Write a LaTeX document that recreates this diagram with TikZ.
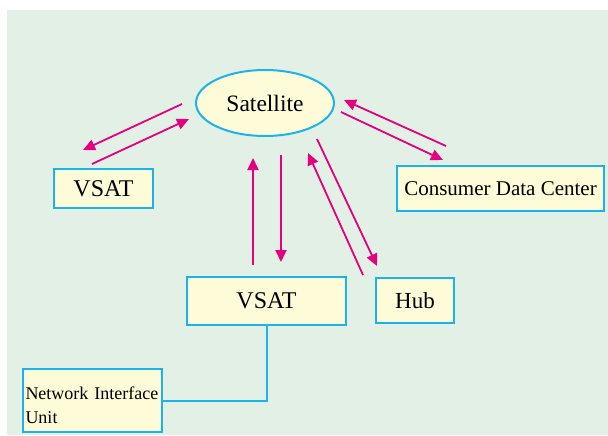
\documentclass[tikz,border=0pt]{standalone}
\usepackage{fontspec}
\setmainfont{Liberation Serif}
\usetikzlibrary{arrows.meta,shapes.geometric}
\definecolor{bggreen}{HTML}{E2F0E5}
\definecolor{boxfill}{HTML}{FEFBD8}
\definecolor{boxline}{HTML}{1BB4EA}
\definecolor{arrowmag}{HTML}{E4007F}
\tikzset{
  box/.style={draw=boxline, fill=boxfill, line width=2pt, inner sep=0pt, font=\fontsize{24}{28}\selectfont},
  sig/.style={draw=arrowmag, line width=1.8pt, -{Triangle[length=12pt,width=11pt]}},
  link/.style={draw=boxline, line width=2pt}
}
\begin{document}
\begin{tikzpicture}[x=1pt,y=-1pt]
\useasboundingbox (0,0) rectangle (608,436);
\fill[bggreen] (7,10) rectangle (608,435);
% nodes
\node[box, ellipse, minimum width=138pt, minimum height=66pt, font=\fontsize{23.5}{28}\selectfont] (sat) at (265,103) {Satellite};
\node[box, minimum width=99pt, minimum height=39pt] (vsatl) at (103.5,188.5) {VSAT};
\node[box, minimum width=207pt, minimum height=45pt, font=\fontsize{21}{25}\selectfont] (cdc) at (500.5,188.5) {Consumer Data Center};
\node[box, minimum width=159pt, minimum height=48pt] (vsat) at (266.5,301) {VSAT};
\node[box, minimum width=78pt, minimum height=45pt, font=\fontsize{23}{27}\selectfont] (hub) at (415,300.5) {Hub};
\node[box, minimum width=139pt, minimum height=63pt, align=left, text width=134pt, font=\fontsize{18}{24}\selectfont] (niu) at (92.5,400.5) {\strut\\[-19pt]Network Interface\\Unit};
% connector
\draw[link] (vsat.south) |- (niu.east);
% arrow end points
\coordinate (a1s) at (182,104); \coordinate (a1e) at (83,150);
\coordinate (a2s) at (92,164);  \coordinate (a2e) at (189,119);
\coordinate (b1s) at (446,146); \coordinate (b1e) at (344,100);
\coordinate (b2s) at (341,112); \coordinate (b2e) at (443,160);
\coordinate (c1s) at (253,265); \coordinate (c1e) at (253,158);
\coordinate (c2s) at (281,155); \coordinate (c2e) at (281,262);
\coordinate (d1s) at (317,139); \coordinate (d1e) at (377,266);
\coordinate (d2s) at (363,275); \coordinate (d2e) at (308,153);
\draw[sig] (a1s) -- (a1e);
\draw[sig] (a2s) -- (a2e);
\draw[sig] (b1s) -- (b1e);
\draw[sig] (b2s) -- (b2e);
\draw[sig] (c1s) -- (c1e);
\draw[sig] (c2s) -- (c2e);
\draw[sig] (d1s) -- (d1e);
\draw[sig] (d2s) -- (d2e);
\end{tikzpicture}
\end{document}
